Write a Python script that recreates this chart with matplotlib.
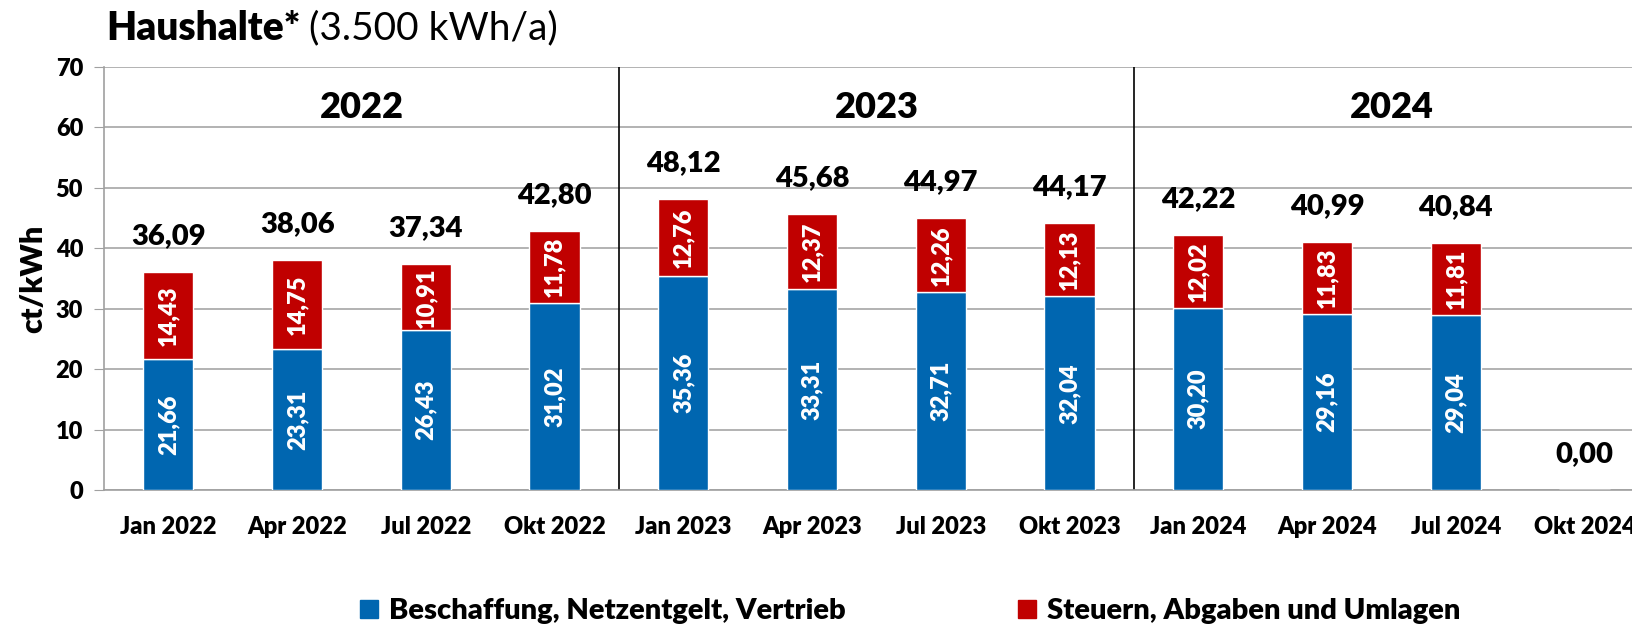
import matplotlib.pyplot as plt
from matplotlib.patches import Patch

plt.rcParams['font.family'] = ['Lato', 'DejaVu Sans']

categories = ["Jan 2022", "Apr 2022", "Jul 2022", "Okt 2022",
              "Jan 2023", "Apr 2023", "Jul 2023", "Okt 2023",
              "Jan 2024", "Apr 2024", "Jul 2024", "Okt 2024"]
beschaffung = [21.66, 23.31, 26.43, 31.02, 35.36, 33.31, 32.71, 32.04, 30.20, 29.16, 29.04, 0.0]
steuern = [14.43, 14.75, 10.91, 11.78, 12.76, 12.37, 12.26, 12.13, 12.02, 11.83, 11.81, 0.0]
totals = [36.09, 38.06, 37.34, 42.80, 48.12, 45.68, 44.97, 44.17, 42.22, 40.99, 40.84, 0.00]
years = ["2022", "2023", "2024"]

BLUE = "#0066B0"
RED = "#C00000"
BOLD = "heavy"


def de(v):
    return f"{v:.2f}".replace(".", ",")


fig = plt.figure(figsize=(16.33, 6.28), dpi=100)
# plot area runs past the right edge, like the cropped original
ax = fig.add_axes([0.0637, 0.2197, 0.946, 0.6736])

x = list(range(len(categories)))
w = 0.39
ax.bar(x, beschaffung, width=w, color=BLUE, edgecolor="white", linewidth=1, zorder=3)
ax.bar(x, steuern, width=w, bottom=beschaffung, color=RED, edgecolor="white", linewidth=1, zorder=3)

for i in x:
    if beschaffung[i] > 0:
        ax.text(i, beschaffung[i] / 2, de(beschaffung[i]), rotation=90, ha="center", va="center",
                color="white", fontsize=17, fontweight=BOLD, zorder=4)
    if steuern[i] > 0:
        ax.text(i, beschaffung[i] + steuern[i] / 2, de(steuern[i]), rotation=90, ha="center",
                va="center", color="white", fontsize=17, fontweight=BOLD, zorder=4)
    ax.annotate(de(totals[i]), (i, totals[i]), xytext=(0, 26), textcoords="offset points",
                ha="center", va="center", fontsize=21, fontweight=BOLD)

# year separators and headings
for k, yr in enumerate(years):
    ax.text(4 * k + 1.5, 63.3, yr, ha="center", va="center", fontsize=26, fontweight=BOLD)
    if k > 0:
        ax.axvline(4 * k - 0.5, color="black", linewidth=1.2, zorder=2)

ax.set_xlim(-0.5, len(categories) - 0.5)
ax.set_ylim(0, 70)
ax.set_yticks(range(0, 71, 10))
ax.set_xticks(x)
ax.set_xticklabels(categories, fontsize=17, fontweight=BOLD)
ax.tick_params(axis="x", length=0, pad=19)
ax.tick_params(axis="y", length=7, color="#A0A0A0", labelsize=17, pad=8)
for lbl in ax.get_yticklabels():
    lbl.set_fontweight(BOLD)
ax.yaxis.grid(True, color="#A6A6A6", linewidth=1.2, zorder=0)
ax.set_axisbelow(True)
for s in ["top", "right"]:
    ax.spines[s].set_visible(False)
for s in ["left", "bottom"]:
    ax.spines[s].set_color("#A0A0A0")
    ax.spines[s].set_linewidth(1.2)
ax.set_ylabel("ct/kWh", fontsize=22, fontweight=BOLD, labelpad=6)

t1 = fig.text(0.065, 0.955, "Haushalte*", fontsize=28, fontweight=BOLD, va="center")
fig.canvas.draw()
bb = t1.get_window_extent()
fig.text(bb.x1 / fig.bbox.width + 0.005, 0.955, "(3.500 kWh/a)", fontsize=28, va="center")

handles = [Patch(color=BLUE, label="Beschaffung, Netzentgelt, Vertrieb"),
           Patch(color=RED, label="Steuern, Abgaben und Umlagen")]
leg = fig.legend(handles=handles, loc="center", bbox_to_anchor=(0.5576, 0.027), ncol=2,
                 frameon=False, columnspacing=5.9, handlelength=0.6, handleheight=0.6,
                 handletextpad=0.4, prop={"weight": BOLD, "size": 21})

fig.savefig("out.png", dpi=100)
